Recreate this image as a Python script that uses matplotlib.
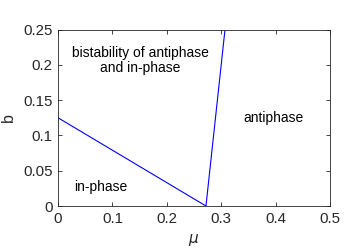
import matplotlib
matplotlib.use("Agg")
import matplotlib.pyplot as plt

# boundary curve in the (mu, b) plane
mu = [0.0, 0.272, 0.307]
b = [0.125, 0.0, 0.25]

xticks = [0, 0.1, 0.2, 0.3, 0.4, 0.5]
yticks = [0, 0.05, 0.1, 0.15, 0.2, 0.25]

plt.rcParams["font.family"] = ["Liberation Sans", "DejaVu Sans"]

fig = plt.figure(figsize=(3.46, 2.52), dpi=100)
ax = fig.add_axes([58 / 346, 1 - 206 / 252, 272 / 346, 176.5 / 252])

ax.plot(mu, b, color="#0000ff", lw=0.8)

ax.set_xlim(0, 0.5)
ax.set_ylim(0, 0.25)
ax.set_xticks(xticks)
ax.set_xticklabels([f"{v:g}" for v in xticks])
ax.set_yticks(yticks)
ax.set_yticklabels([f"{v:g}" for v in yticks])
ax.tick_params(direction="in", top=True, right=True, length=3, width=0.6,
               labelsize=10.8, colors="#262626", pad=4)
for s in ax.spines.values():
    s.set_linewidth(0.6)
    s.set_color("#262626")

ax.set_xlabel(r"$\mu$", fontsize=11, color="#262626", labelpad=5)
ax.set_ylabel("b", fontsize=11.5, color="#262626", labelpad=5)

kw = dict(fontsize=10, color="black", ha="center", va="center")
ax.text(0.151, 0.206, "bistability of antiphase\nand in-phase", linespacing=1.1, **kw)
ax.text(0.397, 0.125, "antiphase", **kw)
ax.text(0.079, 0.027, "in-phase", **kw)

fig.savefig("out.png", dpi=100)
